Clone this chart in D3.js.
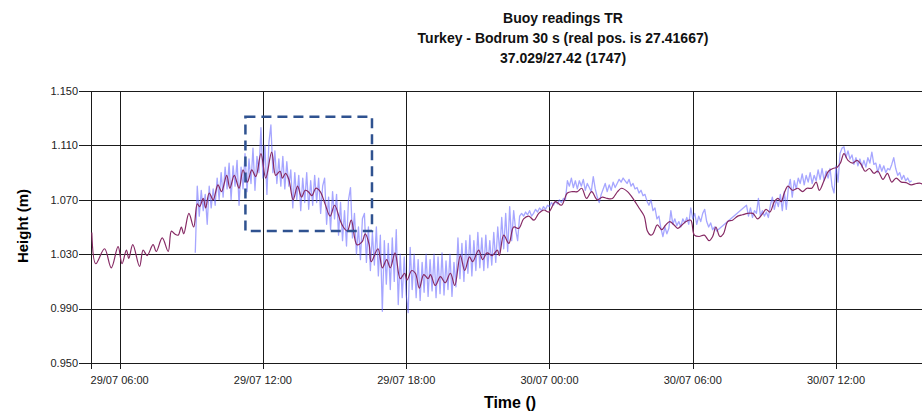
<!DOCTYPE html>
<html>
<head>
<meta charset="utf-8">
<script src="https://cdn.jsdelivr.net/npm/d3@7"></script>
<style>
  body { margin: 0; background: #fff; }
  text { font-family: "Liberation Sans", Arial, sans-serif; }
</style>
</head>
<body>
<svg id="chart" width="922" height="415"></svg>
<script>
// chart texts
var titleLines = ["Buoy readings TR", "Turkey - Bodrum 30 s (real pos. is 27.41667)", "37.029/27.42 (1747)"];
var xTitle = "Time ()";
var yTitle = "Height (m)";

// axes
var xDomain = ["29/07 04:48", "30/07 15:36"];
var xTickLabels = ["29/07 06:00", "29/07 12:00", "29/07 18:00", "30/07 00:00", "30/07 06:00", "30/07 12:00"];
var yTicks = [0.950, 0.990, 1.030, 1.070, 1.110, 1.150];

// dashed box (zoom area marked on the chart)
var boxTimes = ["29/07 11:16", "29/07 16:34"];
var boxValues = [1.131, 1.047];

// smoothed series (purple)
var smoothTimes = [
  "29/07 04:50","29/07 05:00","29/07 05:22","29/07 05:39","29/07 05:56","29/07 06:06","29/07 06:17","29/07 06:23",
  "29/07 06:33","29/07 06:50","29/07 06:59","29/07 07:09","29/07 07:24","29/07 07:32","29/07 07:47","29/07 08:02",
  "29/07 08:10","29/07 08:18","29/07 08:27","29/07 08:35","29/07 08:41","29/07 08:54","29/07 09:06","29/07 09:15",
  "29/07 09:21","29/07 09:30","29/07 09:36","29/07 09:45","29/07 09:55","29/07 10:07","29/07 10:16","29/07 10:29",
  "29/07 10:37","29/07 10:48","29/07 11:00","29/07 11:10","29/07 11:21","29/07 11:32","29/07 11:42","29/07 11:55",
  "29/07 12:07","29/07 12:22","29/07 12:32","29/07 12:43","29/07 12:49","29/07 12:57","29/07 13:05","29/07 13:16",
  "29/07 13:27","29/07 13:37","29/07 13:46","29/07 13:54","29/07 14:03","29/07 14:13","29/07 14:24","29/07 14:36",
  "29/07 14:49","29/07 15:00","29/07 15:14","29/07 15:22","29/07 15:32","29/07 15:42","29/07 15:56","29/07 16:09",
  "29/07 16:17","29/07 16:27","29/07 16:32","29/07 16:49","29/07 17:00","29/07 17:11","29/07 17:20","29/07 17:32",
  "29/07 17:45","29/07 17:56","29/07 18:02","29/07 18:14","29/07 18:23","29/07 18:33","29/07 18:44","29/07 18:55",
  "29/07 19:01","29/07 19:13","29/07 19:26","29/07 19:38","29/07 19:51","29/07 20:02","29/07 20:16","29/07 20:27",
  "29/07 20:39","29/07 20:47","29/07 21:02","29/07 21:12","29/07 21:23","29/07 21:36","29/07 21:49","29/07 21:54",
  "29/07 22:05","29/07 22:18","29/07 22:30","29/07 22:43","29/07 22:55","29/07 23:08","29/07 23:21","29/07 23:33",
  "29/07 23:46","29/07 23:58","30/07 00:15","30/07 00:30","30/07 00:45","30/07 00:57","30/07 01:10","30/07 01:21",
  "30/07 01:33","30/07 01:46","30/07 02:00","30/07 02:13","30/07 02:25","30/07 02:38","30/07 02:51","30/07 03:01",
  "30/07 03:16","30/07 03:32","30/07 03:45","30/07 03:58","30/07 04:06","30/07 04:14","30/07 04:20","30/07 04:31",
  "30/07 04:42","30/07 04:52","30/07 05:02","30/07 05:13","30/07 05:22","30/07 05:33","30/07 05:43","30/07 05:55",
  "30/07 06:04","30/07 06:16","30/07 06:29","30/07 06:41","30/07 06:50","30/07 06:58","30/07 07:08","30/07 07:17",
  "30/07 07:28","30/07 07:40","30/07 07:53","30/07 08:05","30/07 08:18","30/07 08:31","30/07 08:43","30/07 08:56",
  "30/07 09:04","30/07 09:14","30/07 09:25","30/07 09:34","30/07 09:42","30/07 09:50","30/07 09:59","30/07 10:11",
  "30/07 10:24","30/07 10:36","30/07 10:47","30/07 10:59","30/07 11:10","30/07 11:18","30/07 11:31","30/07 11:41",
  "30/07 11:52","30/07 12:03","30/07 12:11","30/07 12:20","30/07 12:30","30/07 12:42","30/07 12:53","30/07 13:03",
  "30/07 13:13","30/07 13:24","30/07 13:35","30/07 13:45","30/07 13:58","30/07 14:09","30/07 14:20","30/07 14:31",
  "30/07 14:44","30/07 14:56","30/07 15:09","30/07 15:22","30/07 15:34","30/07 15:44"
];
var smoothValues = [
  1.046,1.023,1.034,1.020,1.0355,1.023,1.033,1.027,
  1.037,1.021,1.033,1.029,1.037,1.032,1.042,1.032,
  1.047,1.045,1.044,1.050,1.045,1.060,1.050,1.067,
  1.065,1.071,1.064,1.075,1.070,1.081,1.076,1.088,
  1.0785,1.088,1.0785,1.092,1.083,1.092,1.087,1.104,
  1.086,1.105,1.088,1.091,1.086,1.0895,1.085,1.070,
  1.080,1.072,1.077,1.076,1.073,1.0785,1.076,1.067,
  1.058,1.066,1.055,1.050,1.047,1.055,1.037,1.039,
  1.045,1.037,1.0245,1.034,1.020,1.026,1.020,1.031,
  1.012,1.016,1.011,1.018,1.016,1.005,1.015,1.012,
  1.015,1.007,1.0135,1.009,1.016,1.007,1.029,1.018,
  1.028,1.0245,1.033,1.026,1.031,1.029,1.033,1.029,
  1.044,1.038,1.050,1.049,1.056,1.058,1.055,1.060,
  1.0625,1.061,1.0686,1.066,1.075,1.076,1.076,1.0785,
  1.071,1.076,1.070,1.072,1.071,1.071,1.076,1.0785,
  1.076,1.070,1.064,1.058,1.047,1.044,1.045,1.0515,
  1.048,1.0515,1.054,1.0515,1.049,1.0515,1.054,1.055,
  1.044,1.043,1.044,1.040,1.043,1.050,1.043,1.045,
  1.054,1.055,1.058,1.059,1.060,1.060,1.056,1.060,
  1.063,1.061,1.0686,1.071,1.0686,1.075,1.080,1.077,
  1.0785,1.076,1.0785,1.0785,1.083,1.077,1.085,1.091,
  1.093,1.094,1.097,1.104,1.099,1.097,1.099,1.096,
  1.091,1.093,1.0895,1.091,1.085,1.0895,1.083,1.086,
  1.083,1.0826,1.081,1.082,1.082,1.0785
];

// raw readings (blue), one every 5 minutes, null = no reading
var rawStart = "29/07 09:10";
var rawStepMinutes = 5;
var rawValues = [
  // 29/07 09:10 ..
  1.031,1.080,1.058,1.077,1.062,1.074,1.052,1.080,1.064,1.078,1.066,1.086,
  1.070,1.090,1.072,1.094,1.078,1.097,1.070,1.095,1.080,1.099,1.066,1.094,
  1.078,1.104,1.076,1.100,1.082,1.108,1.077,1.102,1.090,1.123,1.086,1.110,
  1.074,1.112,1.125,1.090,1.106,1.082,1.100,1.080,1.102,1.078,1.098,1.080,
  1.092,1.064,1.090,1.070,1.088,1.062,1.086,1.068,1.090,1.063,1.084,1.066,
  1.088,1.068,1.086,1.060,1.080,1.086,1.052,1.072,1.048,1.076,1.056,1.074,
  1.044,1.068,1.040,1.062,1.036,1.070,1.079,1.042,1.060,1.030,1.050,1.026,
  1.056,1.060,1.024,1.050,1.018,1.046,1.022,1.050,1.014,1.044,0.988,1.040,
  1.008,1.038,1.004,1.042,1.010,1.048,0.993,1.030,0.998,1.028,1.000,0.987,
  1.035,1.004,1.030,0.998,1.026,0.996,1.024,1.002,1.030,0.999,1.026,1.003,
  1.030,0.998,1.028,1.001,1.031,1.000,1.025,1.004,1.030,0.999,1.024,1.006,
  1.042,1.012,1.038,1.010,1.040,1.016,1.044,1.014,1.040,1.018,1.046,1.020,
  1.042,1.018,1.044,1.020,1.040,1.022,1.046,1.024,1.050,1.031,1.057,1.034,
  1.060,1.032,1.065,1.040,1.062,1.048,1.040,1.058,1.060,1.058,1.061,1.059,
  1.062,1.058,1.060,1.063,1.061,1.064,1.062,1.065,1.063,1.066,1.065,1.068,
  // 30/07 00:10 ..
  1.066,1.069,1.067,1.070,1.068,1.071,1.070,1.084,1.080,1.086,1.079,1.084,
  1.078,1.084,1.080,1.085,1.077,1.082,1.079,1.076,1.087,1.078,1.072,1.068,
  1.074,1.078,1.082,1.076,1.081,1.077,1.083,1.079,1.082,1.085,1.083,1.086,
  1.084,1.082,1.085,1.080,1.082,1.078,1.079,1.075,1.077,1.073,1.074,1.069,
  1.066,1.070,1.062,1.064,1.056,1.058,1.049,1.043,1.050,1.045,1.049,1.062,
  1.052,1.056,1.051,1.054,1.050,1.056,1.053,1.057,1.052,1.064,1.056,1.060,
  1.052,1.058,1.054,1.060,1.063,1.054,1.050,1.053,1.048,1.050,1.047,
  null,null,null,null,null,null,null,null,null,null,null,null,null,null,
  1.066,1.058,1.064,1.057,1.062,1.060,1.071,1.058,1.062,1.058,1.061,1.057,
  1.066,1.072,1.063,1.070,1.065,1.074,1.062,1.076,1.063,1.078,1.085,1.072,
  1.084,1.078,1.086,1.082,1.089,1.081,1.088,1.083,1.090,1.082,1.088,1.084,
  1.092,1.085,1.093,1.084,1.091,1.086,1.093,1.080,1.075,1.095,1.083,1.104,
  1.108,1.109,1.101,1.106,1.100,1.103,1.096,1.101,1.095,1.100,1.094,1.099,
  1.094,1.101,1.097,1.105,1.096,1.097,1.090,1.096,1.091,1.095,1.090,1.093,
  1.092,1.096,1.101,1.093,1.088,1.090,1.085,1.088,1.084,1.086,1.083,1.084
];

var parseTime = d3.utcParse("%d/%m %H:%M");

var svg = d3.select("#chart");
var plotLeft = 91, plotRight = 922, plotTop = 91, plotBottom = 363;

var x = d3.scaleUtc()
    .domain(xDomain.map(parseTime))
    .range([plotLeft, plotRight]);
var y = d3.scaleLinear()
    .domain([0.95, 1.15])
    .range([plotBottom, plotTop]);

var crisp = function (v) { return Math.round(v) + 0.5; };

// title
svg.append("g").selectAll("text")
    .data(titleLines)
    .enter().append("text")
    .attr("x", 563)
    .attr("y", function (d, i) { return 23 + i * 20; })
    .attr("text-anchor", "middle")
    .attr("font-size", 14)
    .attr("font-weight", "bold")
    .attr("fill", "#111")
    .text(function (d) { return d; });

// grid
var grid = svg.append("g").attr("stroke", "#1a1a1a").attr("stroke-width", 1);
grid.selectAll("line.h")
    .data(yTicks)
    .enter().append("line")
    .attr("class", "h")
    .attr("x1", plotLeft - 12).attr("x2", plotRight)
    .attr("y1", function (d) { return crisp(y(d)); })
    .attr("y2", function (d) { return crisp(y(d)); });
grid.selectAll("line.v")
    .data(xTickLabels)
    .enter().append("line")
    .attr("class", "v")
    .attr("x1", function (d) { return crisp(x(parseTime(d))); })
    .attr("x2", function (d) { return crisp(x(parseTime(d))); })
    .attr("y1", plotTop).attr("y2", plotBottom + 6);
grid.append("line")
    .attr("x1", plotLeft + 0.5).attr("x2", plotLeft + 0.5)
    .attr("y1", plotTop).attr("y2", plotBottom + 6);

// tick labels
svg.append("g").selectAll("text")
    .data(yTicks)
    .enter().append("text")
    .attr("x", 78)
    .attr("y", function (d) { return y(d); })
    .attr("dy", "0.35em")
    .attr("text-anchor", "end")
    .attr("font-size", 11)
    .attr("fill", "#222")
    .text(function (d) { return d3.format(".3f")(d); });
svg.append("g").selectAll("text")
    .data(xTickLabels)
    .enter().append("text")
    .attr("x", function (d) { return x(parseTime(d)); })
    .attr("y", 384)
    .attr("text-anchor", "middle")
    .attr("font-size", 11)
    .attr("fill", "#222")
    .text(function (d) { return d; });

// axis titles
svg.append("text")
    .attr("transform", "translate(28,226) rotate(-90)")
    .attr("text-anchor", "middle")
    .attr("font-size", 15)
    .attr("font-weight", "bold")
    .text(yTitle);
svg.append("text")
    .attr("x", 510).attr("y", 408)
    .attr("text-anchor", "middle")
    .attr("font-size", 16)
    .attr("font-weight", "bold")
    .text(xTitle);

// series
svg.append("clipPath").attr("id", "plot")
    .append("rect")
    .attr("x", plotLeft).attr("y", plotTop)
    .attr("width", plotRight - plotLeft).attr("height", plotBottom - plotTop);

var rawPoints = [];
rawValues.forEach(function (v, i) {
    if (v === null) return;
    rawPoints.push([d3.utcMinute.offset(parseTime(rawStart), i * rawStepMinutes), v]);
});
var smoothPoints = smoothTimes.map(function (t, i) { return [parseTime(t), smoothValues[i]]; });

var rawLine = d3.line()
    .x(function (d) { return x(d[0]); })
    .y(function (d) { return y(d[1]); });
var smoothLine = d3.line()
    .curve(d3.curveCatmullRom.alpha(0.5))
    .x(function (d) { return x(d[0]); })
    .y(function (d) { return y(d[1]); });

var series = svg.append("g").attr("clip-path", "url(#plot)");
series.append("path")
    .datum(rawPoints)
    .attr("d", rawLine)
    .attr("fill", "none")
    .attr("stroke", "#5c5cff")
    .attr("stroke-opacity", 0.55)
    .attr("stroke-width", 1.3)
    .attr("stroke-linejoin", "round");
series.append("path")
    .datum(smoothPoints)
    .attr("d", smoothLine)
    .attr("fill", "none")
    .attr("stroke", "#862a64")
    .attr("stroke-width", 1.2)
    .attr("stroke-linejoin", "round");

// dashed box
var bx0 = x(parseTime(boxTimes[0])), bx1 = x(parseTime(boxTimes[1]));
var by0 = y(boxValues[0]), by1 = y(boxValues[1]);
svg.append("rect")
    .attr("x", bx0).attr("y", by0)
    .attr("width", bx1 - bx0).attr("height", by1 - by0)
    .attr("fill", "none")
    .attr("stroke", "#2f5290")
    .attr("stroke-width", 2.5)
    .attr("stroke-dasharray", "10,6");
</script>
</body>
</html>
